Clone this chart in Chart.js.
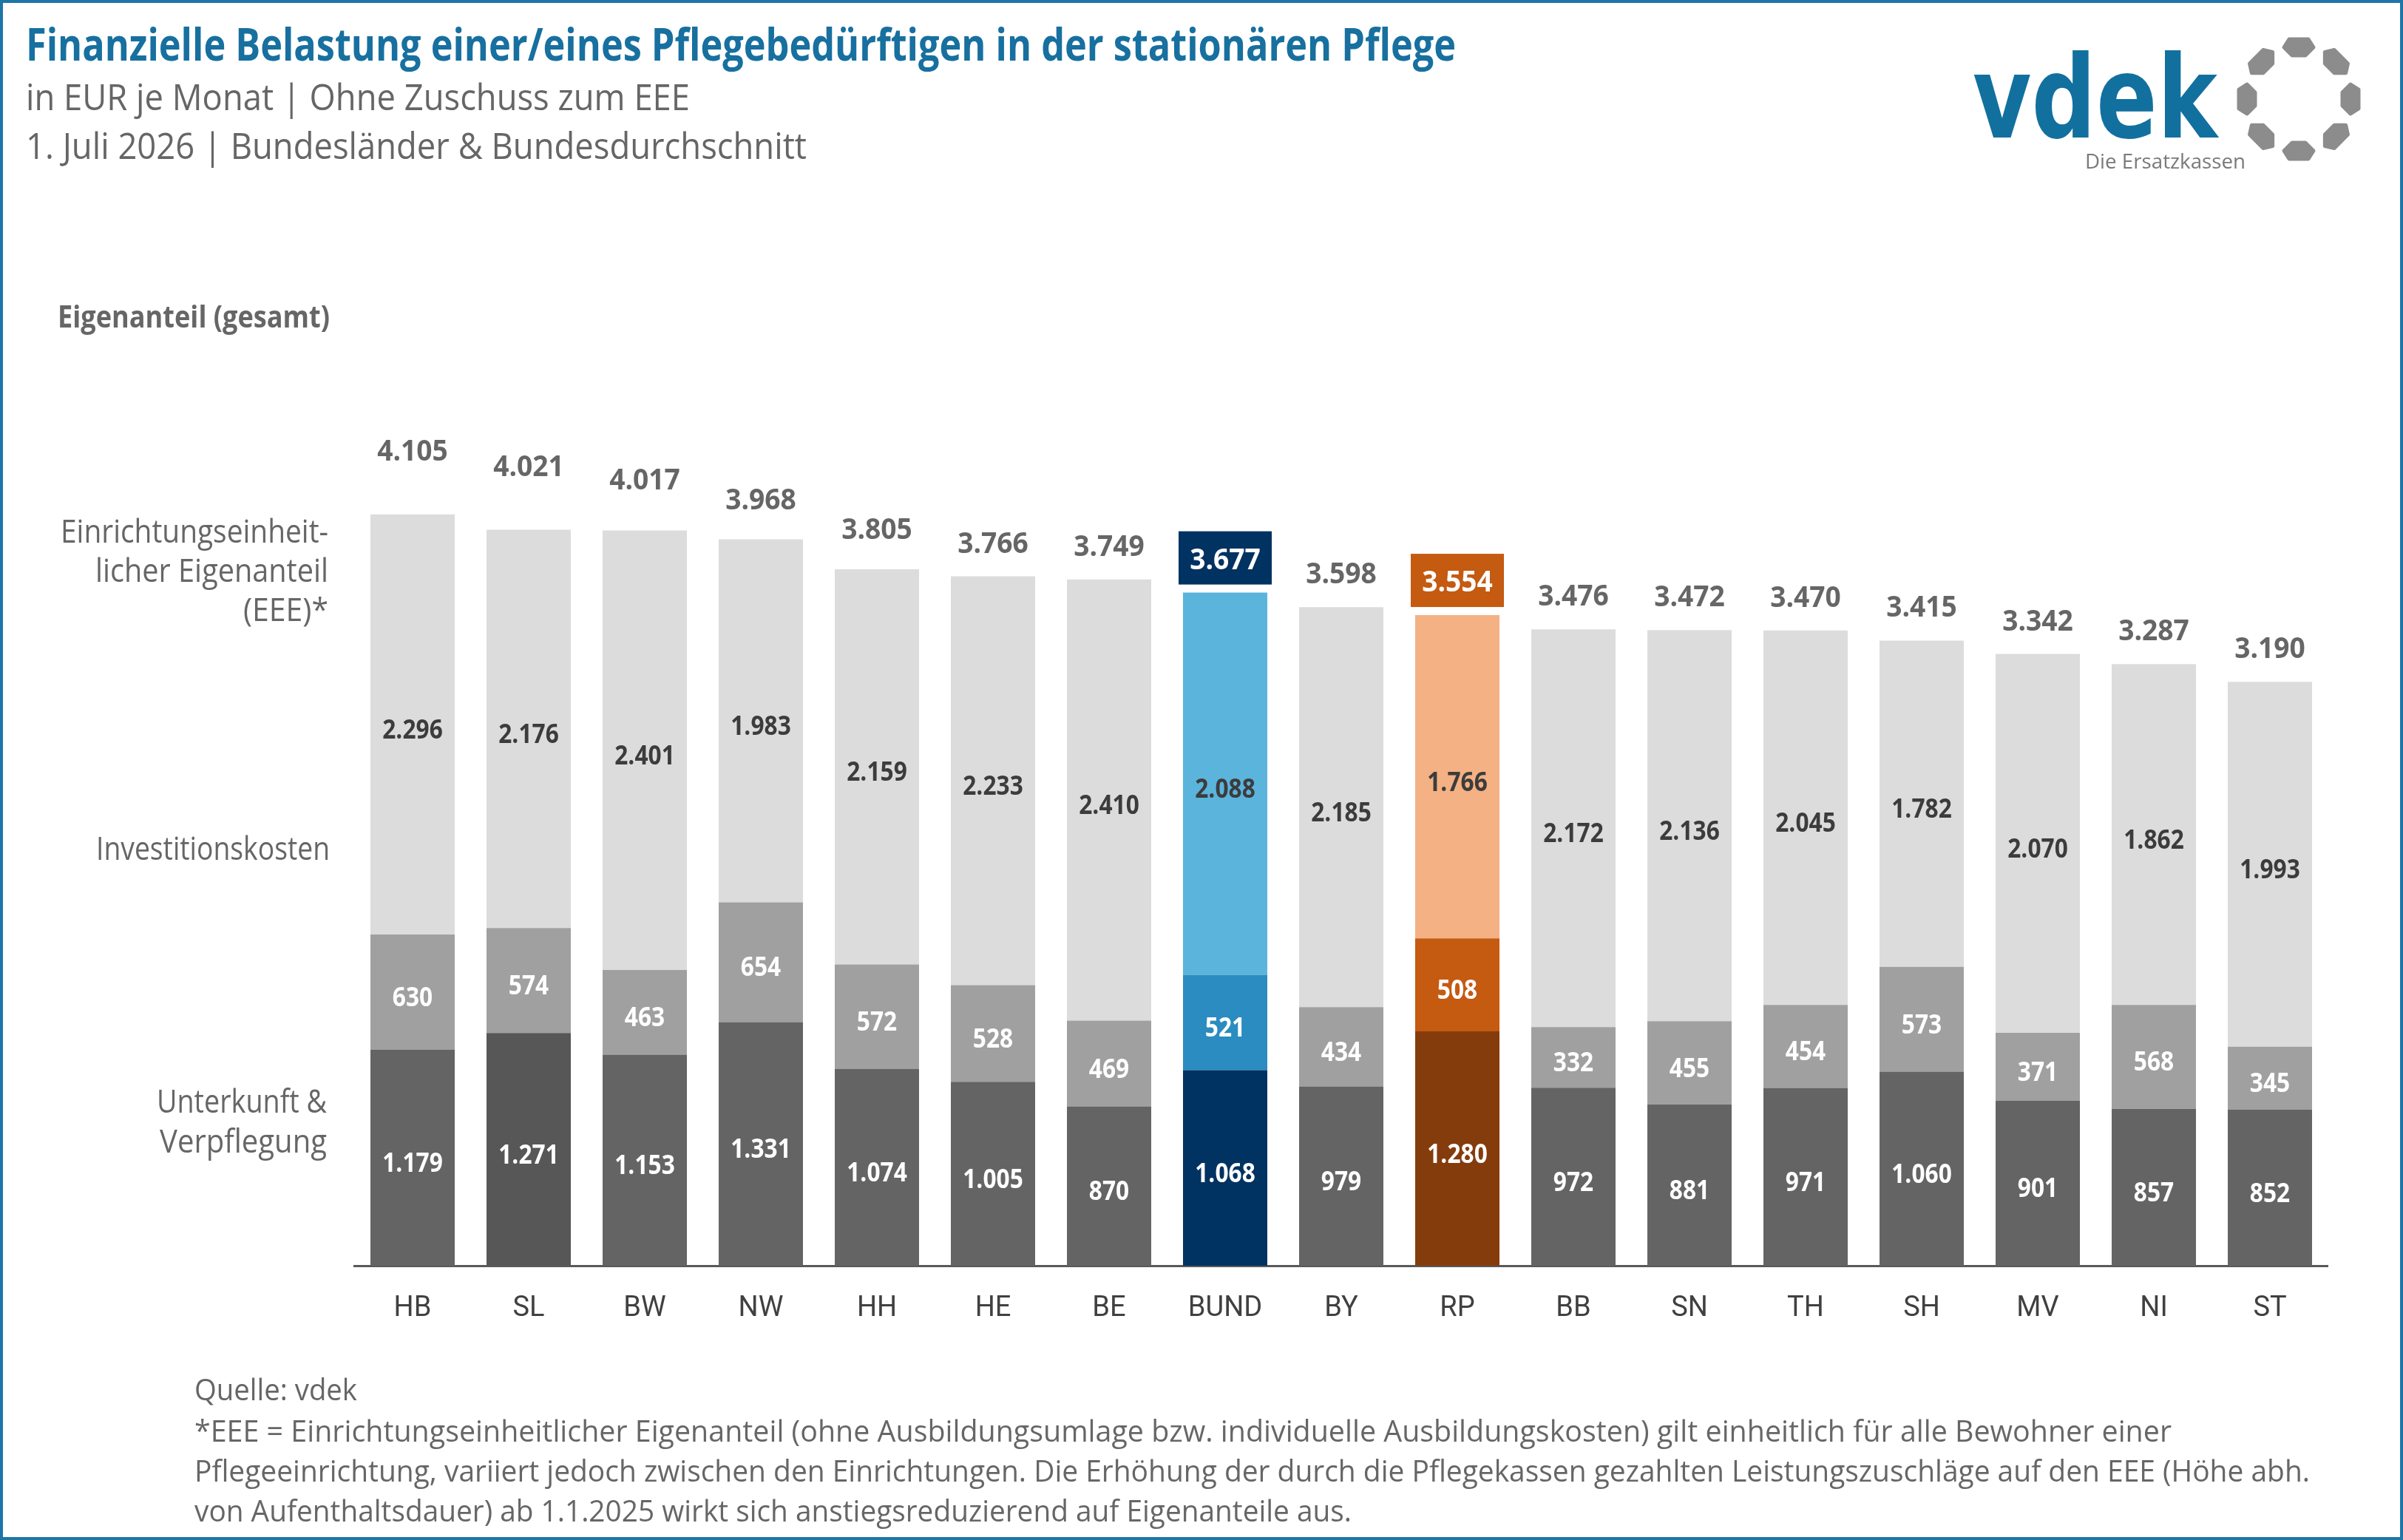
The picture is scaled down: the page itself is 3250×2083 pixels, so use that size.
<!DOCTYPE html>
<html><head><meta charset="utf-8">
<script src="https://cdn.jsdelivr.net/npm/chart.js@4.4.1/dist/chart.umd.min.js"></script>
<style>html,body{margin:0;padding:0;background:#fff;overflow:hidden;} canvas{display:block;}</style>
</head><body>
<canvas id="c" width="3250" height="2083" style="width:3250px;height:2083px"></canvas>
<script>
// ---- data ----
const categories = ['HB','SL','BW','NW','HH','HE','BE','BUND','BY','RP','BB','SN','TH','SH','MV','NI','ST'];
const unterkunft = [1179,1271,1153,1331,1074,1005,870,1068,979,1280,972,881,971,1060,901,857,852];
const invest     = [630,574,463,654,572,528,469,521,434,508,332,455,454,573,371,568,345];
const eee        = [2296,2176,2401,1983,2159,2233,2410,2088,2185,1766,2172,2136,2045,1782,2070,1862,1993];
const totals     = [4105,4021,4017,3968,3805,3766,3749,3677,3598,3554,3476,3472,3470,3415,3342,3287,3190];
const seriesNames = ['Unterkunft & Verpflegung','Investitionskosten','Einrichtungseinheitlicher Eigenanteil (EEE)*'];

const titleText = 'Finanzielle Belastung einer/eines Pflegebedürftigen in der stationären Pflege';
const subtitle1 = 'in EUR je Monat | Ohne Zuschuss zum EEE';
const subtitle2 = '1. Juli 2026 | Bundesländer & Bundesdurchschnitt';
const axisTitle = 'Eigenanteil (gesamt)';
const footLines = [
  'Quelle: vdek',
  '*EEE = Einrichtungseinheitlicher Eigenanteil (ohne Ausbildungsumlage bzw. individuelle Ausbildungskosten) gilt einheitlich für alle Bewohner einer',
  'Pflegeeinrichtung, variiert jedoch zwischen den Einrichtungen. Die Erhöhung der durch die Pflegekassen gezahlten Leistungszuschläge auf den EEE (Höhe abh.',
  'von Aufenthaltsdauer) ab 1.1.2025 wirkt sich anstiegsreduzierend auf Eigenanteile aus.'
];

// ---- styles ----
const FONT = "'Open Sans', 'Noto Sans', sans-serif";
const palette = {
  default: ['#646464','#a0a0a0','#dcdcdc'],
  SL:      ['#575757','#a0a0a0','#dcdcdc'],
  BUND:    ['#003262','#2a8cc0','#5ab4dc'],
  RP:      ['#843c0c','#c55a11','#f4b183']
};
const boxColors = { BUND: '#003262', RP: '#c55a11' };
// extra vertical lift (px) of some total labels, as placed in the original layout
const totalLabelLift = { HB: 41, SL: 40, BW: 23, NW: 9, HH: 9 };
function colorFor(ds, idx) { return (palette[categories[idx]] || palette.default)[ds]; }
function fmt(n) { return String(n).replace(/\B(?=(\d{3})+(?!\d))/g, '.'); }

function drawFit(ctx, text, x, y, font, color, width, align) {
  ctx.save();
  ctx.font = font; ctx.fillStyle = color; ctx.textBaseline = 'alphabetic'; ctx.textAlign = 'left';
  const w = ctx.measureText(text).width;
  const s = width / w;
  const x0 = align === 'right' ? x - width : (align === 'center' ? x - width / 2 : x);
  ctx.translate(x0, y); ctx.scale(s, 1); ctx.fillText(text, 0, 0);
  ctx.restore();
}
function drawScaled(ctx, text, x, y, font, color, sx) {
  ctx.save();
  ctx.font = font; ctx.fillStyle = color; ctx.textAlign = 'center'; ctx.textBaseline = 'alphabetic';
  ctx.translate(x, y); ctx.scale(sx, 1); ctx.fillText(text, 0, 0);
  ctx.restore();
}

const labelPlugin = {
  id: 'labels',
  afterDatasetsDraw(chart) {
    const ctx = chart.ctx;
    // segment labels
    for (let d = 0; d < 3; d++) {
      const meta = chart.getDatasetMeta(d);
      const vals = chart.data.datasets[d].data;
      meta.data.forEach((el, i) => {
        const cy = (el.y + el.base) / 2;
        const col = d === 2 ? '#3c3c3c' : '#ffffff';
        drawScaled(ctx, fmt(vals[i]), el.x, cy + 19, "bold 36px " + FONT, col, 0.88);
      });
    }
    // totals
    const topMeta = chart.getDatasetMeta(2);
    topMeta.data.forEach((el, i) => {
      const cat = categories[i];
      const top = el.y;
      if (boxColors[cat]) {
        const bw = el.width + 12, bh = 72;
        const by = top - 11 - bh;
        ctx.fillStyle = boxColors[cat];
        ctx.fillRect(el.x - bw / 2, by, bw, bh);
        drawScaled(ctx, fmt(totals[i]), el.x, by + bh / 2 + 15, "bold 40px " + FONT, '#ffffff', 0.93);
      } else {
        const lift = totalLabelLift[cat] || 0;
        drawScaled(ctx, fmt(totals[i]), el.x, top - 47 + 15 - lift, "bold 40px " + FONT, '#666666', 0.93);
      }
    });
  },
  afterDraw(chart) {
    const ctx = chart.ctx;
    // header
    drawFit(ctx, titleText, 35, 82, "bold 60px " + FONT, '#17709f', 1934, 'left');
    drawFit(ctx, subtitle1, 35, 149, "50px " + FONT, '#666666', 898, 'left');
    drawFit(ctx, subtitle2, 35, 215, "50px " + FONT, '#666666', 1056, 'left');
    drawFit(ctx, axisTitle, 78, 443, "bold 42px " + FONT, '#666666', 368, 'left');
    // series labels at left
    const lf = "44px " + FONT, lc = '#666666';
    drawFit(ctx, 'Einrichtungseinheit-', 444, 734, lf, lc, 362, 'right');
    drawFit(ctx, 'licher Eigenanteil', 444, 787, lf, lc, 315, 'right');
    drawFit(ctx, '(EEE)*', 444, 840, lf, lc, 115, 'right');
    drawFit(ctx, 'Investitionskosten', 446, 1163, lf, lc, 316, 'right');
    drawFit(ctx, 'Unterkunft &', 442, 1505, lf, lc, 230, 'right');
    drawFit(ctx, 'Verpflegung', 442, 1559, lf, lc, 226, 'right');
    // footnotes
    const ff = "40px " + FONT;
    const fw = [220, 2674, 2861, 1565];
    const fy = [1894, 1950, 2004, 2058];
    footLines.forEach((t, i) => drawFit(ctx, t, 263, fy[i], ff, '#666666', fw[i], 'left'));
    // logo
    drawLogo(ctx);
    // frame
    ctx.save();
    ctx.strokeStyle = '#1f76a6'; ctx.lineWidth = 4;
    ctx.strokeRect(2, 2, 3246, 2079);
    ctx.restore();
  }
};

function drawLogo(ctx) {
  ctx.save();
  ctx.font = "bold 170px 'DejaVu Sans', " + FONT;
  const m = ctx.measureText('vdek');
  const sx = 331 / m.width;
  const sy = 117 / (m.actualBoundingBoxAscent || 125);
  ctx.fillStyle = '#12709f';
  ctx.textAlign = 'left'; ctx.textBaseline = 'alphabetic';
  ctx.translate(2668, 186); ctx.scale(sx, sy);
  ctx.fillText('vdek', 0, 0);
  ctx.restore();
  drawFit(ctx, 'Die Ersatzkassen', 2820, 228, "28px " + FONT, '#7a7a7a', 217, 'left');
  // ring of blobs
  const cx = 3109, cy = 134, R = 70;
  ctx.save();
  ctx.fillStyle = '#8c8c8c'; ctx.strokeStyle = '#8c8c8c'; ctx.lineJoin = 'round'; ctx.lineWidth = 5;
  for (let k = 0; k < 8; k++) {
    const a = -Math.PI / 2 + k * Math.PI / 4;
    const px = cx + R * Math.cos(a), py = cy + R * Math.sin(a);
    ctx.save();
    ctx.translate(px, py); ctx.rotate(a + Math.PI / 2);
    ctx.beginPath();
    ctx.moveTo(-13, -11); ctx.lineTo(13, -11); ctx.lineTo(20, 0);
    ctx.lineTo(9, 11); ctx.lineTo(-9, 11); ctx.lineTo(-20, 0);
    ctx.closePath(); ctx.fill(); ctx.stroke();
    ctx.restore();
  }
  ctx.restore();
}

const datasets = [unterkunft, invest, eee].map((arr, d) => ({
  label: seriesNames[d],
  data: arr,
  backgroundColor: (c) => colorFor(d, c.dataIndex),
  borderWidth: 0,
  categoryPercentage: 1.0,
  barPercentage: 0.726,
  stack: 's'
}));

new Chart(document.getElementById('c'), {
  type: 'bar',
  data: { labels: categories, datasets },
  options: {
    responsive: false,
    devicePixelRatio: 1,
    animation: false,
    layout: { padding: { left: 479.5, right: 101.5, top: 622.6, bottom: 221 } },
    plugins: { legend: { display: false }, tooltip: { enabled: false }, title: { display: false } },
    scales: {
      x: {
        stacked: true,
        grid: { display: false, drawTicks: false },
        border: { display: true, color: '#595959', width: 3 },
        ticks: { font: { family: 'Roboto', size: 38 }, color: '#404040', padding: 36, maxRotation: 0, autoSkip: false },
        afterFit: (s) => { s.height = 150; }
      },
      y: { stacked: true, display: false, min: 0, max: 4400 }
    }
  },
  plugins: [labelPlugin]
});
</script>
</body></html>
